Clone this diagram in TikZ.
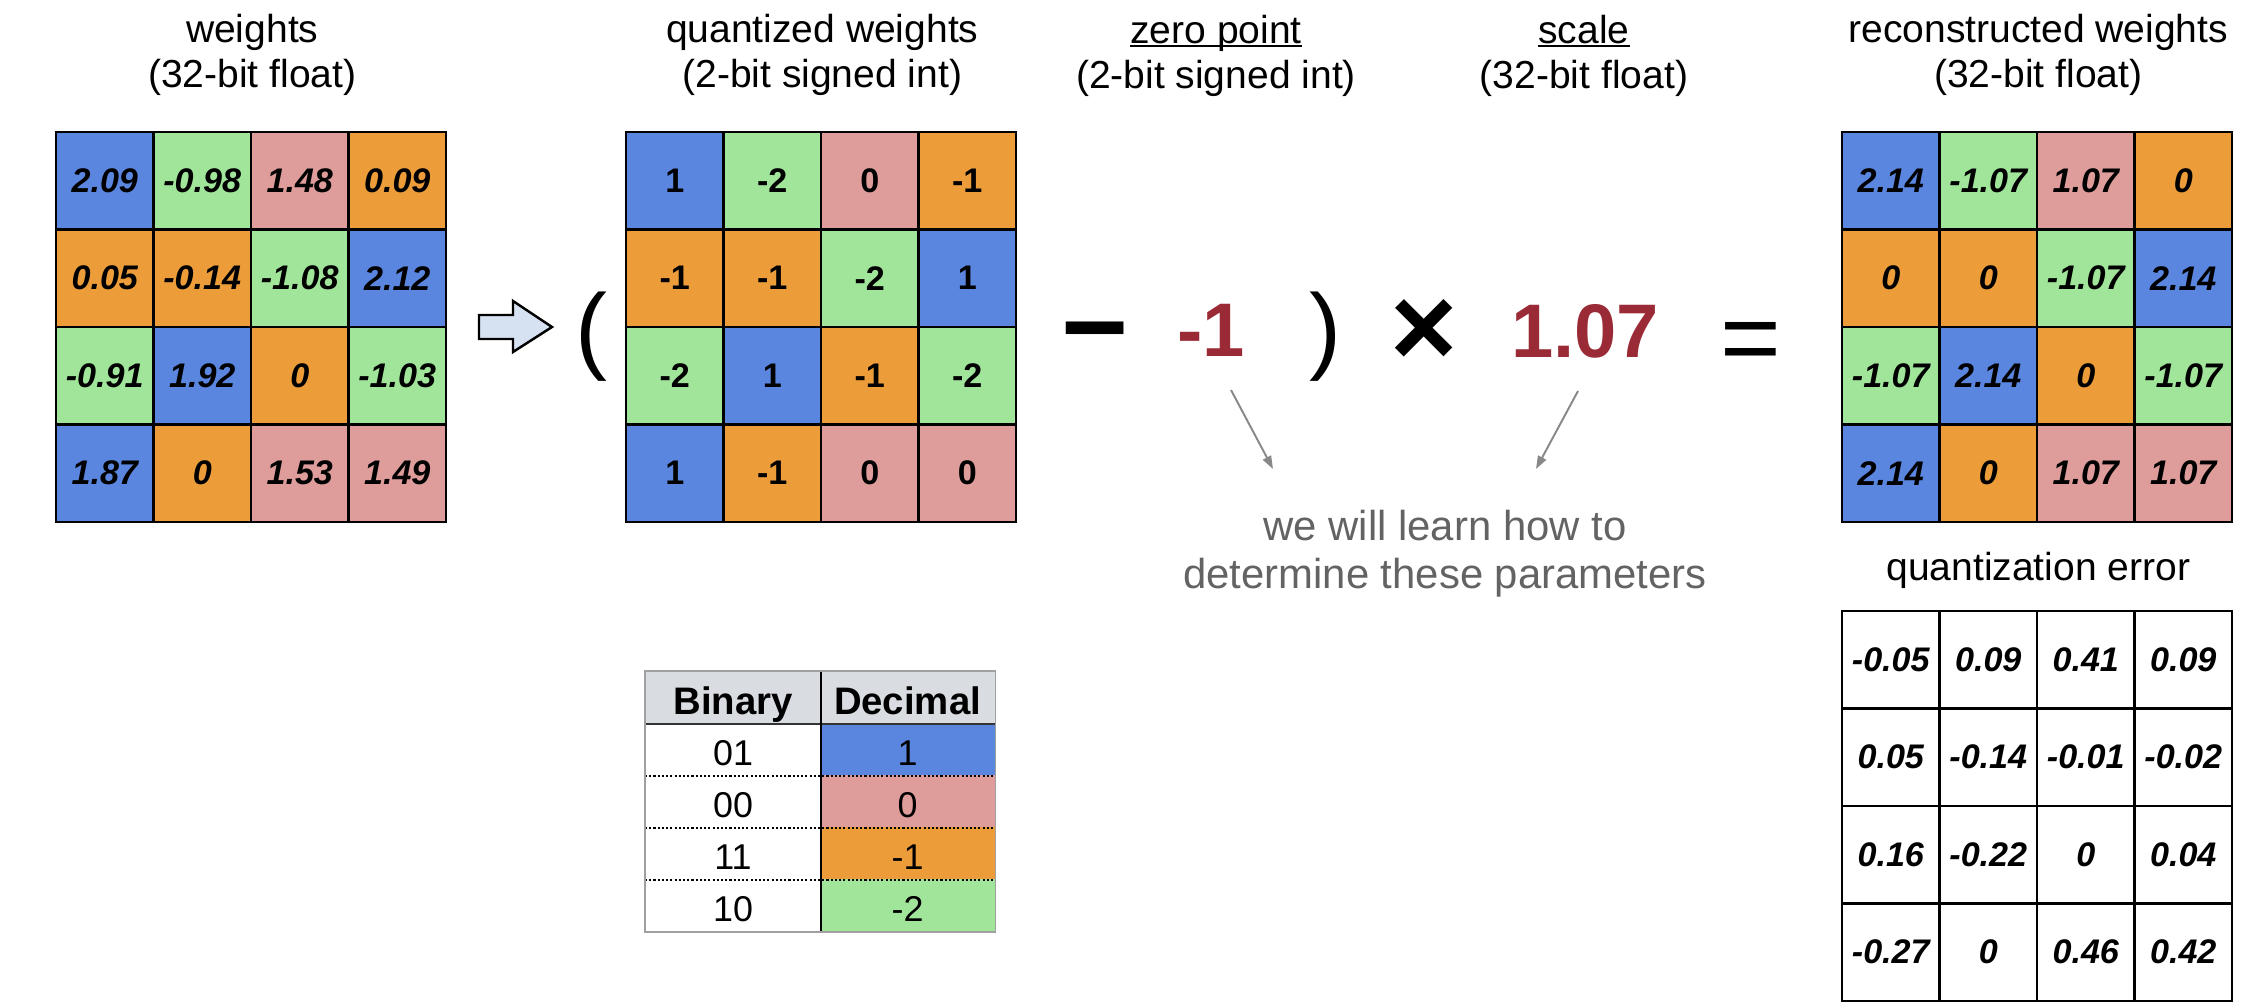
\documentclass[tikz,border=0pt]{standalone}
\usepackage{fontspec}
\setmainfont{Liberation Sans}
\usetikzlibrary{arrows.meta, positioning}
\definecolor{cellblue}{RGB}{90,134,224}
\definecolor{cellgreen}{RGB}{161,229,155}
\definecolor{cellpink}{RGB}{222,156,155}
\definecolor{cellorange}{RGB}{236,157,57}
\definecolor{paramred}{RGB}{154,43,54}
\definecolor{notegray}{RGB}{99,99,99}
\definecolor{pointergray}{RGB}{136,136,136}
\definecolor{arrowfill}{RGB}{214,226,242}
\definecolor{headgray}{RGB}{217,220,224}
\definecolor{framegray}{RGB}{160,160,160}
\newcommand{\ulword}[1]{\setbox0\hbox{#1}\rlap{\rule[-0.1em]{\wd0}{0.06em}}\box0}

\begin{document}
\begin{tikzpicture}[
        x=0.01cm, y=-0.01cm,
        title/.style={align=center, inner sep=0pt, font=\fontsize{11.1pt}{12.8pt}\selectfont},
        wcell/.style={rectangle, draw=black, line width=0.7pt, minimum width=0.975cm, minimum height=0.975cm, inner sep=0pt, font=\fontsize{9.7pt}{11pt}\selectfont\bfseries\itshape},
        qcell/.style={wcell, font=\fontsize{9.7pt}{11pt}\selectfont\bfseries},
        param/.style={inner sep=0pt, text=paramred, font=\fontsize{21.6pt}{24pt}\selectfont\bfseries},
        paren/.style={inner sep=0pt, font=\fontsize{27.3pt}{30pt}\selectfont},
        opsign/.style={inner sep=0pt, font=\fontsize{32.7pt}{36pt}\selectfont\bfseries},
        eqsign/.style={inner sep=0pt, font=\fontsize{29.6pt}{32pt}\selectfont},
        note/.style={align=center, inner sep=0pt, text=notegray, font=\fontsize{11.9pt}{13.66pt}\selectfont},
        pointer/.style={-{Triangle[length=0.13cm, width=0.09cm]}, line width=0.55pt, pointergray},
        tabhead/.style={rectangle, fill=headgray, minimum width=1.745cm, minimum height=0.51cm, inner sep=0pt, text height=0.33cm, text depth=0cm, font=\fontsize{10.9pt}{12pt}\selectfont\bfseries},
        tabcell/.style={rectangle, minimum width=1.745cm, minimum height=0.52cm, inner sep=0pt, text height=0.33cm, text depth=0cm, font=\fontsize{10.2pt}{12pt}\selectfont}
    ]
        \useasboundingbox (0,0) rectangle (2260,1004);
        \foreach \row/\col/\clr/\qv/\wv/\rv/\ev in {
                1/1/cellblue/1/2.09/2.14/-0.05, 1/2/cellgreen/-2/-0.98/-1.07/0.09,
                1/3/cellpink/0/1.48/1.07/0.41, 1/4/cellorange/-1/0.09/0/0.09,
                2/1/cellorange/-1/0.05/0/0.05, 2/2/cellorange/-1/-0.14/0/-0.14,
                2/3/cellgreen/-2/-1.08/-1.07/-0.01, 2/4/cellblue/1/2.12/2.14/-0.02,
                3/1/cellgreen/-2/-0.91/-1.07/0.16, 3/2/cellblue/1/1.92/2.14/-0.22,
                3/3/cellorange/-1/0/0/0, 3/4/cellgreen/-2/-1.03/-1.07/0.04,
                4/1/cellblue/1/1.87/2.14/-0.27, 4/2/cellorange/-1/0/0/0,
                4/3/cellpink/0/1.53/1.07/0.46, 4/4/cellpink/0/1.49/1.07/0.42}{
            \node[wcell, fill=\clr] (w-\row-\col) at ({7.25+97.5*\col}, {83.25+97.5*\row}) {\wv};
            \node[qcell, fill=\clr] (q-\row-\col) at ({577.25+97.5*\col}, {83.25+97.5*\row}) {\qv};
            \node[wcell, fill=\clr] (r-\row-\col) at ({1793.25+97.5*\col}, {83.25+97.5*\row}) {\rv};
            \node[wcell, fill=white] (e-\row-\col) at ({1793.25+97.5*\col}, {562.25+97.5*\row}) {\ev};
        }

        \node[title, above=0.345cm of w-1-2.north east] (t-w) {weights\\(32-bit float)};
        \node[title, above=0.345cm of q-1-2.north east] (t-q) {quantized weights\\(2-bit signed int)};
        \node[title, above=0.345cm of r-1-2.north east] (t-r) {reconstructed weights\\(32-bit float)};
        \node[title, above=0.2cm of e-1-2.north east] (t-e) {quantization error};
        \node[title] (t-zp) at (1216,55.5) {\ulword{zero point}\\(2-bit signed int)};
        \node[title] (t-sc) at (1584,55.5) {\ulword{scale}\\(32-bit float)};

        \draw[line width=0.7pt, fill=arrowfill] (479,315) -- (513,315) -- (513,301) -- (552,327) -- (513,352) -- (513,339) -- (479,339) -- cycle;

        \node[paren, anchor=base] (lp) at (591,362) {(};
        \node[opsign, anchor=base] (minus) at (1095,367) {−};
        \node[param, anchor=base] (zp) at (1211,357) {-1};
        \node[paren, anchor=base] (rp) at (1325,362) {)};
        \node[opsign, anchor=base] (times) at (1424,367) {×};
        \node[param, anchor=base] (sc) at (1585,358) {1.07};
        \node[eqsign, anchor=base] (eq) at (1751,374) {=};

        \node[note] (learn) at (1445,554) {we will learn how to\\determine these parameters};
        \coordinate (zp-tail) at (1231,390);
        \coordinate (zp-head) at (1273,469);
        \coordinate (sc-tail) at (1578,391);
        \coordinate (sc-head) at (1536,469);
        \draw[pointer] (zp-tail) -- (zp-head);
        \draw[pointer] (sc-tail) -- (sc-head);

        \node[tabhead] (h-bin) at (733,697.5) {Binary};
        \node[tabhead] (h-dec) at (907.5,697.5) {Decimal};
        \foreach \k/\bits/\clr/\dec in {1/01/cellblue/1, 2/00/cellpink/0, 3/11/cellorange/-1, 4/10/cellgreen/-2}{
            \node[tabcell] (b-\k) at (733, {697+52*\k}) {\bits};
            \node[tabcell, fill=\clr] (d-\k) at (907.5, {697+52*\k}) {\dec};
        }
        \foreach \k in {1,2,3}
            \draw[line width=0.5pt, dash pattern=on 0.6pt off 0.6pt] (b-\k.south west) -- (d-\k.south east);
        \draw[line width=0.6pt, black!80] (h-bin.south west) -- (h-dec.south east);
        \draw[line width=0.6pt] (h-bin.north east) -- (b-4.south east);
        \draw[line width=0.5pt, framegray] (h-bin.north west) rectangle (d-4.south east);
    \end{tikzpicture}
\end{document}
